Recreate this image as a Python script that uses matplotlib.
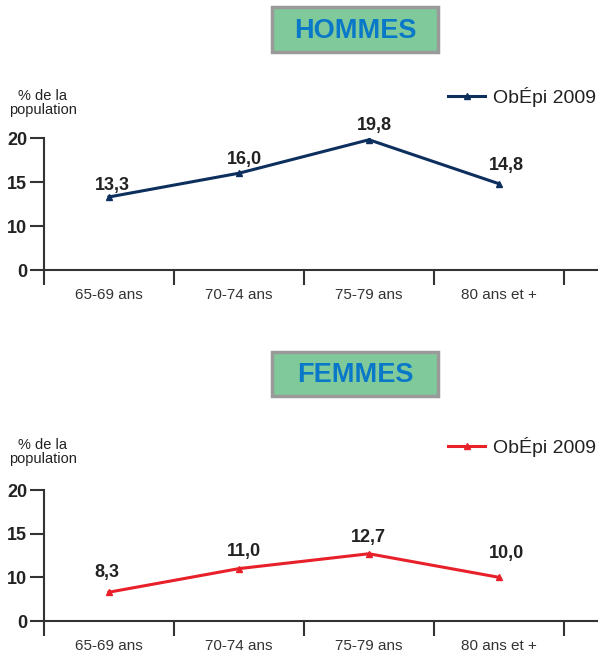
import matplotlib
matplotlib.use("Agg")
import matplotlib.pyplot as plt
from matplotlib.patches import Rectangle
from matplotlib.lines import Line2D

plt.rcParams['font.family'] = ['Liberation Sans', 'DejaVu Sans']

# Data
categories = ["65-69 ans", "70-74 ans", "75-79 ans", "80 ans et +"]
hommes = [13.3, 16.0, 19.8, 14.8]
femmes = [8.3, 11.0, 12.7, 10.0]
series_name = "ObÉpi 2009"
ytick_vals = [5, 10, 15, 20]          # lowest tick is the axis break shown as "0"
ytick_labels = ["0", "10", "15", "20"]

# label offsets in pixels (dx, dy)
off_h = [(3, 11), (5, 14), (5, 14), (7, 18)]
off_f = [(-2, 20), (5, 17), (-1, 16), (7, 24)]

W, H = 598, 652
fig = plt.figure(figsize=(W / 100, H / 100), dpi=100)


def fx(px):
    return px / W


def fy(py):
    return 1 - py / H


def title_box(text, top, bottom):
    x0, x1 = 272, 438
    fig.patches.append(Rectangle((fx(x0), fy(bottom)), fx(x1 - x0), (bottom - top) / H,
                                 transform=fig.transFigure, facecolor="#80c99a",
                                 edgecolor="#9a9a9a", linewidth=2.5))
    fig.text(fx((x0 + x1) / 2), fy((top + bottom) / 2 + 1), text, ha="center", va="center",
             fontsize=19.5, fontweight="bold", color="#0a78c8")


def panel(values, color, offsets, ax_top, ax_bottom, ylab_y, leg_y):
    ax = fig.add_axes([fx(44), fy(ax_bottom), 1 - fx(44), (ax_bottom - ax_top) / H])
    x = list(range(len(categories)))
    ax.plot(x, values, color=color, linewidth=2.2, marker="^", markersize=4.5)
    for xi, v, (dx, dy) in zip(x, values, offsets):
        ax.annotate(f"{v:.1f}".replace(".", ","), (xi, v), xytext=(dx, dy),
                    textcoords="offset pixels", ha="center", va="center",
                    fontsize=13, fontweight="bold", color="#222222")
    ax.set_xlim(-0.5, (W - 44) / 130 - 0.5)
    ax.set_ylim(5, 20)
    ax.set_yticks(ytick_vals)
    ax.set_yticklabels(ytick_labels, fontsize=13, fontweight="bold", color="#222222")
    ax.set_xticks(x)
    ax.set_xticklabels(categories, fontsize=11, color="#333333")
    ax.set_xticks([i - 0.5 for i in range(len(categories) + 1)], minor=True)
    ax.tick_params(axis="x", which="major", length=0, pad=13)
    ax.tick_params(axis="x", which="minor", length=11, width=1.5, color="#333333", direction="out")
    ax.tick_params(axis="y", length=10, width=1.5, color="#333333", pad=2)
    for s in ["top", "right"]:
        ax.spines[s].set_visible(False)
    for s in ["left", "bottom"]:
        ax.spines[s].set_color("#333333")
        ax.spines[s].set_linewidth(1.5)
    ax.patch.set_visible(False)

    fig.text(fx(43), fy(ylab_y), "% de la\npopulation", ha="center", va="center",
             fontsize=10.5, color="#222222", linespacing=1.05)
    handle = Line2D([], [], color=color, linewidth=2.2, marker="^", markersize=4)
    fig.legend([handle], [series_name], loc="center right",
               bbox_to_anchor=(1.0, fy(leg_y)), frameon=False, fontsize=14,
               handlelength=1.9, handletextpad=0.4, borderpad=0, borderaxespad=0.1,
               labelcolor="#222222")
    return ax


title_box("HOMMES", 7, 52)
panel(hommes, "#0d2f5e", off_h, 138, 270, 103, 97)
title_box("FEMMES", 352, 396)
panel(femmes, "#e8202a", off_f, 490, 621, 452, 447)

fig.savefig("out.png", dpi=100)
